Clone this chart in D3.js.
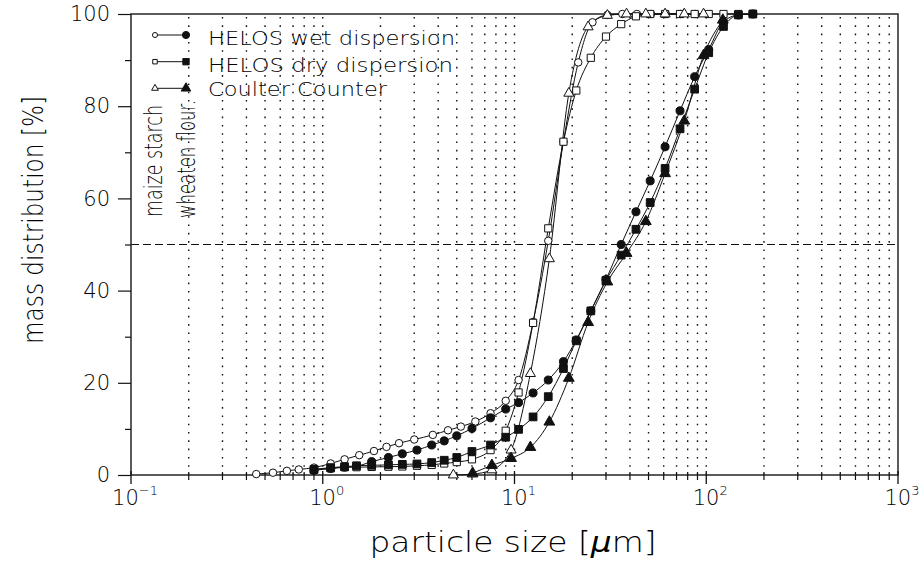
<!DOCTYPE html>
<html>
<head>
<meta charset="utf-8">
<script src="https://cdn.jsdelivr.net/npm/d3@7/dist/d3.min.js"></script>
<style>
  html, body { margin: 0; padding: 0; background: #fff; }
  svg { display: block; }
  text { font-family: 'DejaVu Sans ExtraLight', 'DejaVu Sans', sans-serif; font-weight: 200; fill: #000; }
</style>
</head>
<body>
<svg id="chart" width="920" height="563"></svg>
<script>
// Size classes (µm)
const classesR2 = [0.45, 0.55, 0.65, 0.75, 0.9, 1.1, 1.3, 1.55, 1.85, 2.15, 2.5, 3.0, 3.75, 4.5, 5.25, 6.25, 7.5, 9.0, 10.5, 12.5, 15, 18, 21.5, 25.5, 30.5, 36.5, 43.5, 51.5, 61.5, 73.5, 87.5];
const classesR3 = [0.9, 1.1, 1.3, 1.5, 1.8, 2.2, 2.6, 3.1, 3.7, 4.3, 5.0, 6.0, 7.5, 9.0, 10.5, 12.5, 15, 18, 21, 25, 30, 36, 43, 51, 61, 73, 87, 103, 123, 147, 175];
const classesCoulter = [4.8, 6.05, 7.62, 9.6, 12.1, 15.2, 19.2, 24.2, 30.5, 38.4, 48.4, 61.0, 76.8, 96.8, 122];

// Mass distribution (%)
const wetStarch = [0.2, 0.5, 0.9, 1.2, 1.6, 2.5, 3.4, 4.3, 5.2, 6.1, 6.9, 7.7, 8.7, 9.7, 10.5, 11.6, 13.4, 16.1, 20.6, 33.2, 50.8, 72.3, 89.5, 98.2, 99.8, 100, 100, 100, 100, 100, 100];
const wetFlour = [1.0, 1.4, 1.7, 1.9, 2.9, 3.8, 4.6, 5.4, 6.5, 7.4, 8.5, 10.1, 12.4, 14.3, 15.7, 17.8, 20.6, 24.6, 29.3, 35.6, 42.4, 50.0, 57.1, 63.8, 71.2, 79.0, 86.4, 92.3, 98.3, 99.8, 100];
const dryStarch = [1.2, 1.45, 1.7, 1.7, 1.75, 1.8, 1.85, 2.0, 2.2, 2.5, 2.8, 3.4, 5.4, 9.6, 17.9, 33.0, 53.5, 72.3, 83.4, 90.5, 95.1, 97.8, 99.5, 100, 100, 100, 100, 100, 100, 100, 100];
const dryFlour = [1.2, 1.6, 1.8, 2.0, 2.1, 2.2, 2.3, 2.4, 2.7, 3.2, 3.8, 5.1, 6.5, 8.2, 9.9, 12.6, 17.0, 23.1, 29.1, 35.6, 42.2, 47.7, 53.3, 59.1, 66.5, 75.1, 83.7, 91.6, 97.3, 99.8, 100];
const coulterStarch = [0, 0.2, 1.1, 5.4, 22.0, 46.9, 82.8, 97.2, 99.7, 100, 100, 100, 100, 100, null];
const coulterFlour = [null, 0.4, 2.1, 3.6, 6.0, 11.5, 21.0, 33.1, 41.9, 48.1, 55.0, 65.4, 76.8, 91.0, 98.7];

const yMajorTicks = [0, 20, 40, 60, 80, 100];
const yMinorTicks = [10, 30, 50, 70, 90];
const xMajorTicks = [0.1, 1, 10, 100, 1000];
const xMajorExponents = ["\u22121", "0", "1", "2", "3"];
const legendLabels = ["HELOS wet dispersion", "HELOS dry dispersion", "Coulter Counter"];
const materialLabels = ["maize starch", "wheaten flour."];

const svg = d3.select("#chart");
const x = d3.scaleLog().domain([0.1, 1000]).range([131, 898]);
const y = d3.scaleLinear().domain([0, 100]).range([475, 14]);

// vertical dotted grid
const gridVals = x.ticks().filter(v => v > 0.1 + 1e-9 && v < 1000 - 1e-9);
svg.append("g").selectAll("line").data(gridVals).join("line")
  .attr("x1", d => x(d)).attr("x2", d => x(d))
  .attr("y1", y(100) + 3).attr("y2", y(0) - 1)
  .attr("stroke", "#111").attr("stroke-width", 1.4)
  .attr("stroke-dasharray", "1.6,6.7");

// horizontal dashed 50% line
svg.append("line")
  .attr("x1", x(0.1)).attr("x2", x(1000))
  .attr("y1", y(50)).attr("y2", y(50))
  .attr("stroke", "#111").attr("stroke-width", 1.1)
  .attr("stroke-dasharray", "8,4");

// frame
svg.append("rect")
  .attr("x", x(0.1)).attr("y", y(100))
  .attr("width", x(1000) - x(0.1)).attr("height", y(0) - y(100))
  .attr("fill", "none").attr("stroke", "#333").attr("stroke-width", 1.6);

// y axis
const yAxis = d3.axisLeft(y).tickValues(yMajorTicks).tickSize(13).tickPadding(8).tickFormat(d3.format("d"));
const gy = svg.append("g").attr("transform", `translate(${x(0.1)},0)`).call(yAxis);
gy.select(".domain").remove();
gy.selectAll(".tick line").attr("stroke", "#111").attr("stroke-width", 1.2);
gy.selectAll(".tick text").attr("font-size", 21).attr("font-family", null).attr("fill", "#000");
const gyMinor = d3.axisLeft(y).tickValues(yMinorTicks).tickSize(6).tickFormat("");
const gy2 = svg.append("g").attr("transform", `translate(${x(0.1)},0)`).call(gyMinor);
gy2.select(".domain").remove();
gy2.selectAll(".tick line").attr("stroke", "#111").attr("stroke-width", 1.2);

// x axis ticks
const xMinor = gridVals.filter(v => !xMajorTicks.some(m => Math.abs(m - v) / m < 1e-6));
svg.append("g").selectAll("line").data(xMinor).join("line")
  .attr("x1", d => x(d)).attr("x2", d => x(d))
  .attr("y1", y(0) - 3).attr("y2", y(0) + 5)
  .attr("stroke", "#111").attr("stroke-width", 1.2);
svg.append("g").selectAll("line").data(xMajorTicks).join("line")
  .attr("x1", d => x(d)).attr("x2", d => x(d))
  .attr("y1", y(0) - 4).attr("y2", y(0) + 9)
  .attr("stroke", "#111").attr("stroke-width", 1.3);
const xl = svg.append("g").selectAll("text").data(xMajorTicks).join("text")
  .attr("x", d => x(d) + 4).attr("y", 505)
  .attr("text-anchor", "middle").attr("font-size", 21);
xl.append("tspan").text("10");
xl.append("tspan").attr("font-size", 13).attr("dy", -10).text((d, i) => xMajorExponents[i]);

// axis titles
svg.append("text")
  .attr("transform", "translate(43,220) rotate(-90)")
  .attr("text-anchor", "middle").attr("font-size", 28)
  .attr("textLength", 248).attr("lengthAdjust", "spacingAndGlyphs")
  .text("mass distribution [%]");
const xt = svg.append("text")
  .attr("x", 513).attr("y", 552)
  .attr("text-anchor", "middle").attr("font-size", 28)
  .attr("textLength", 287).attr("lengthAdjust", "spacingAndGlyphs");
xt.append("tspan").text("particle size [");
xt.append("tspan").attr("font-style", "italic").text("\u03bc");
xt.append("tspan").text("m]");

// material labels
svg.append("text").attr("transform", "translate(162,217) rotate(-90)")
  .attr("font-size", 25).attr("textLength", 112).attr("lengthAdjust", "spacingAndGlyphs")
  .text(materialLabels[0]);
svg.append("text").attr("transform", "translate(195,218) rotate(-90)")
  .attr("font-size", 25).attr("textLength", 118).attr("lengthAdjust", "spacingAndGlyphs")
  .text(materialLabels[1]);

// series
function makePts(classes, vals) {
  return classes.map((c, i) => ({ s: c, v: vals[i] })).filter(d => d.v !== null && d.v !== undefined);
}
const series = [
  { pts: makePts(classesR2, wetStarch), shape: "circle", filled: false },
  { pts: makePts(classesR3, wetFlour), shape: "circle", filled: true },
  { pts: makePts(classesR3, dryStarch), shape: "square", filled: false },
  { pts: makePts(classesR3, dryFlour), shape: "square", filled: true },
  { pts: makePts(classesCoulter, coulterStarch), shape: "triangle", filled: false },
  { pts: makePts(classesCoulter, coulterFlour), shape: "triangle", filled: true }
];
const line = d3.line().x(d => x(d.s)).y(d => y(d.v)).curve(d3.curveMonotoneX);
const symSize = { circle: 44, square: 52, triangle: 44 };
const symType = { circle: d3.symbolCircle, square: d3.symbolSquare, triangle: d3.symbolTriangle };

series.forEach(s => {
  svg.append("path").datum(s.pts).attr("d", line)
    .attr("fill", "none").attr("stroke", "#111").attr("stroke-width", 1);
});
series.forEach(s => {
  svg.append("g").selectAll("path").data(s.pts).join("path")
    .attr("transform", d => `translate(${x(d.s)},${y(d.v)})`)
    .attr("d", d3.symbol().type(symType[s.shape]).size(s.filled ? symSize[s.shape] * 1.15 : symSize[s.shape]))
    .attr("fill", s.filled ? "#111" : "#fff")
    .attr("stroke", "#111").attr("stroke-width", 1);
});

// legend
const legendShapes = ["circle", "square", "triangle"];
const legendY = [35, 61.7, 88.3];
const legendText = [45, 71.5, 96];
const legendLens = [247, 245, 179];
legendShapes.forEach((sh, i) => {
  svg.append("line").attr("x1", 155).attr("x2", 186)
    .attr("y1", legendY[i]).attr("y2", legendY[i])
    .attr("stroke", "#111").attr("stroke-width", 1);
  svg.append("path").attr("transform", `translate(155,${legendY[i]})`)
    .attr("d", d3.symbol().type(symType[sh]).size(20))
    .attr("fill", "#fff").attr("stroke", "#111").attr("stroke-width", 1);
  svg.append("path").attr("transform", `translate(186,${legendY[i]})`)
    .attr("d", d3.symbol().type(symType[sh]).size(40))
    .attr("fill", "#111").attr("stroke", "#111").attr("stroke-width", 1);
  svg.append("text").attr("x", 208).attr("y", legendText[i])
    .attr("font-size", 19).attr("textLength", legendLens[i]).attr("lengthAdjust", "spacingAndGlyphs")
    .text(legendLabels[i]);
});
</script>
</body>
</html>
